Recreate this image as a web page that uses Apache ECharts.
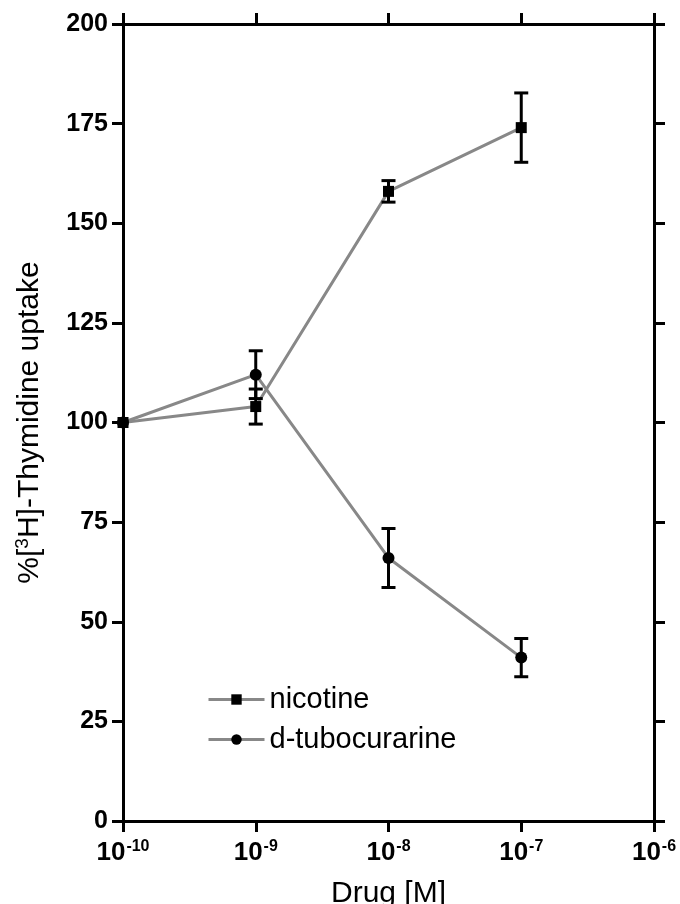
<!DOCTYPE html>
<html>
<head>
<meta charset="utf-8">
<script src="https://cdn.jsdelivr.net/npm/echarts@6/dist/echarts.min.js"></script>
<style>
  html, body { margin: 0; padding: 0; background: #fff; }
  #main { width: 680px; height: 904px; }
</style>
</head>
<body>
<div id="main"></div>
<script>
// drug concentration (M)
var doses = [1e-10, 1e-9, 1e-8, 1e-7]
var nicotine = [100, 104, 158, 174]
var nicotineErr = [0, 4.4, 2.7, 8.7]
var tubo = [100, 112, 66, 41]
var tuboErr = [0, 6, 7.4, 4.8]
var yTicks = [0, 25, 50, 75, 100, 125, 150, 175, 200]

var font = 'Liberation Sans, Arial, Helvetica, sans-serif'

function pairs(ys) {
  return doses.map(function(d, i) { return [d, ys[i]] })
}
function bars(ys, errs) {
  var out = []
  doses.forEach(function(d, i) {
    if (errs[i] > 0) out.push([d, ys[i] - errs[i], ys[i] + errs[i]])
  })
  return out
}

function errorBar(params, api) {
  var lo = api.coord([api.value(0), api.value(1)])
  var hi = api.coord([api.value(0), api.value(2)])
  var w = 7
  var st = { stroke: '#000', lineWidth: 3 }
  return {
    type: 'group',
    children: [
      { type: 'line', shape: { x1: lo[0], y1: lo[1], x2: hi[0], y2: hi[1] }, style: st },
      { type: 'line', shape: { x1: lo[0] - w, y1: lo[1], x2: lo[0] + w, y2: lo[1] }, style: st },
      { type: 'line', shape: { x1: hi[0] - w, y1: hi[1], x2: hi[0] + w, y2: hi[1] }, style: st }
    ]
  }
}

var axisLine = { show: true, onZero: false, lineStyle: { color: '#000', width: 3 } }
var axisTick = { show: true, inside: false, length: 11, lineStyle: { color: '#000', width: 3 } }

var myChart = echarts.init(document.getElementById('main'), null, { renderer: 'canvas' })
var option = {
  backgroundColor: '#fff',
  animation: false,
  grid: { left: 123, right: 26, top: 24, bottom: 83, outerBoundsMode: 'none', containLabel: false },
  legend: {
    left: 202,
    top: 680,
    orient: 'vertical',
    itemWidth: 56,
    itemHeight: 13,
    itemGap: 11,
    lineStyle: { width: 3 },
    textStyle: { fontFamily: font, fontSize: 29, color: '#000' },
    data: ['nicotine', 'd-tubocurarine']
  },
  xAxis: [
    {
      type: 'log',
      logBase: 10,
      min: 1e-10,
      max: 1e-6,
      splitNumber: 4,
      position: 'bottom',
      axisLine: axisLine,
      axisTick: axisTick,
      minorTick: { show: false },
      splitLine: { show: false },
      axisLabel: {
        margin: 18,
        formatter: function(v) {
          return '{b|10}{s|' + Math.round(Math.log10(v)) + '}'
        },
        rich: {
          b: { fontFamily: font, fontSize: 26, fontWeight: 'bold', color: '#000' },
          s: { fontFamily: font, fontSize: 16, fontWeight: 'bold', color: '#000', verticalAlign: 'top', padding: [0, 0, 12, 1] }
        }
      },
      name: 'Drug [M]',
      nameLocation: 'middle',
      nameGap: 58,
      nameTextStyle: { fontFamily: font, fontSize: 30, color: '#000', verticalAlign: 'top' }
    },
    {
      type: 'log',
      logBase: 10,
      min: 1e-10,
      max: 1e-6,
      splitNumber: 4,
      position: 'top',
      axisLine: axisLine,
      axisTick: axisTick,
      splitLine: { show: false },
      axisLabel: { show: false }
    }
  ],
  yAxis: [
    {
      type: 'value',
      min: yTicks[0],
      max: yTicks[yTicks.length - 1],
      interval: 25,
      position: 'left',
      axisLine: axisLine,
      axisTick: axisTick,
      splitLine: { show: false },
      axisLabel: { margin: 15, fontFamily: font, fontSize: 25, fontWeight: 'bold', color: '#000' },
      name: '{t|%[}{s|3}{t|H]-Thymidine uptake}',
      nameLocation: 'middle',
      nameRotate: 90,
      nameGap: 77,
      nameTextStyle: {
        rich: {
          t: { fontFamily: font, fontSize: 30, color: '#000' },
          s: { fontFamily: font, fontSize: 19, color: '#000', padding: [0, 0, 14, 0] }
        }
      }
    },
    {
      type: 'value',
      min: yTicks[0],
      max: yTicks[yTicks.length - 1],
      interval: 25,
      position: 'right',
      axisLine: axisLine,
      axisTick: axisTick,
      splitLine: { show: false },
      axisLabel: { show: false }
    }
  ],
  series: [
    {
      name: 'nicotine',
      type: 'line',
      data: pairs(nicotine),
      symbol: 'rect',
      symbolSize: 11,
      itemStyle: { color: '#000' },
      lineStyle: { color: '#888', width: 3 },
      z: 3
    },
    {
      name: 'd-tubocurarine',
      type: 'line',
      data: pairs(tubo),
      symbol: 'circle',
      symbolSize: 12,
      itemStyle: { color: '#000' },
      lineStyle: { color: '#888', width: 3 },
      z: 3
    },
    {
      type: 'custom',
      renderItem: errorBar,
      data: bars(nicotine, nicotineErr),
      z: 4
    },
    {
      type: 'custom',
      renderItem: errorBar,
      data: bars(tubo, tuboErr),
      z: 4
    }
  ]
}
myChart.setOption(option)
</script>
</body>
</html>
